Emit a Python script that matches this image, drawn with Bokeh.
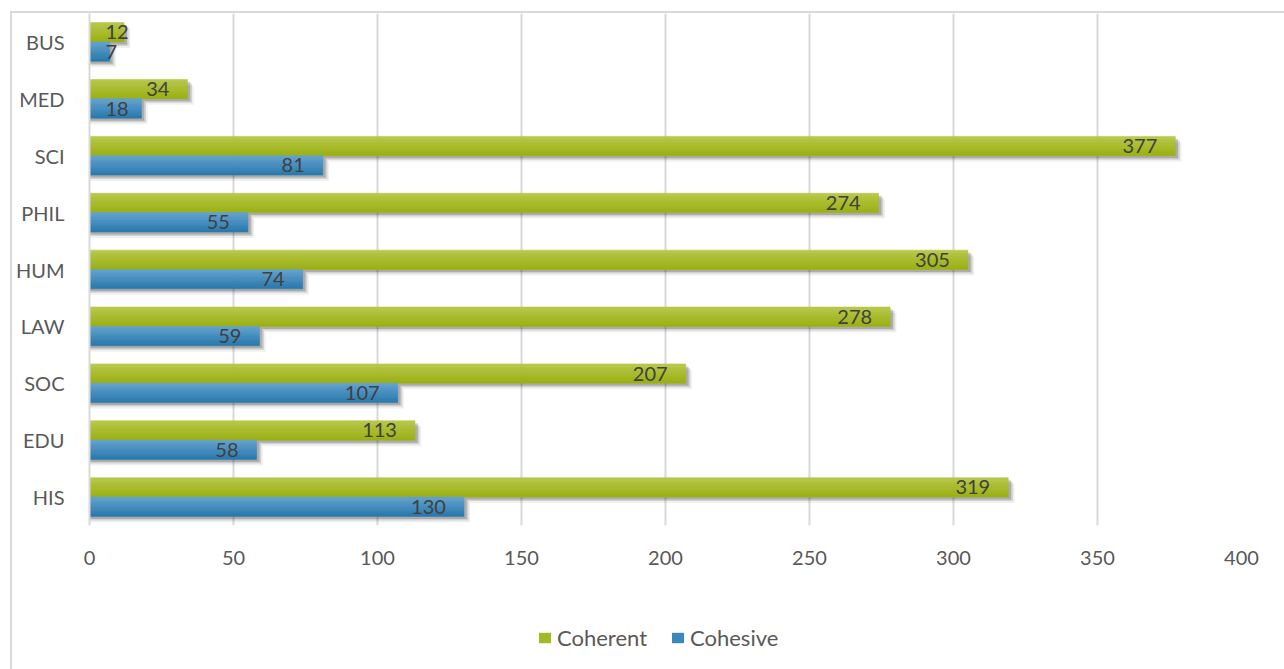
from bokeh.plotting import figure
from bokeh.layouts import column
from bokeh.models import ColumnDataSource, FactorRange, Legend, LegendItem, Range1d
from bokeh.transform import dodge
from bokeh.embed import file_html
from bokeh.resources import INLINE
from bokeh.core.properties import value

# Categories listed bottom to top
categories = ["HIS", "EDU", "SOC", "LAW", "HUM", "PHIL", "SCI", "MED", "BUS"]
coherent = [319, 113, 207, 278, 305, 274, 377, 34, 12]
cohesive = [130, 58, 107, 59, 74, 55, 81, 18, 7]
x_ticks = [0, 50, 100, 150, 200, 250, 300, 350, 400]
series_names = ["Coherent", "Cohesive"]

FONT = "Lato"
TICK_COLOR = "#595959"
LABEL_COLOR = "#404040"
GRID_COLOR = "#d9d9d9"
GREEN_TOP, GREEN_BOTTOM = (183, 199, 72), (156, 178, 20)
BLUE_TOP, BLUE_BOTTOM = (98, 161, 206), (43, 123, 175)
GREEN_KEY, BLUE_KEY = "#a2b825", "#3a87bd"

W = 1272
LEFT, RIGHT, TOP, BOTTOM = 76, 43, 0, 60
FRAME_H = 512
H = FRAME_H + TOP + BOTTOM
LEGEND_H = 84
X_MAX = 400
BAR_H = 0.34
N_STRIPS = 8

p = figure(
    width=W, height=H,
    y_range=FactorRange(*categories),
    x_range=Range1d(0, X_MAX),
    output_backend="svg", toolbar_location=None,
    min_border_left=LEFT, min_border_right=RIGHT,
    min_border_top=TOP, min_border_bottom=BOTTOM,
    outline_line_color=None,
)

src = ColumnDataSource(dict(cat=categories, coherent=coherent, cohesive=cohesive))

frame_w = W - LEFT - RIGHT
px_per_unit = frame_w / X_MAX
row_px = FRAME_H / len(categories)


def mix(a, b, t):
    return "#%02x%02x%02x" % tuple(round(a[k] + (b[k] - a[k]) * t) for k in range(3))


def draw_series(field, center, top_rgb, bottom_rgb):
    vals = src.data[field]
    # soft drop shadow below and to the right of each bar
    for dy, dx, alpha in [(6, 2.2, 0.06), (4, 1.6, 0.12), (2.5, 1.0, 0.18)]:
        sh = ColumnDataSource(dict(cat=categories, right=[v + dx for v in vals]))
        p.hbar(y=dodge("cat", center - dy / row_px, range=p.y_range), left=0, right="right",
               height=BAR_H, source=sh, fill_color="black", fill_alpha=alpha, line_color=None)
    # vertical shading built from horizontal strips
    strip_h = BAR_H / N_STRIPS
    for i in range(N_STRIPS):
        off = center + BAR_H / 2 - (i + 0.5) * strip_h
        col = mix(top_rgb, bottom_rgb, i / (N_STRIPS - 1))
        p.hbar(y=dodge("cat", off, range=p.y_range), left=0, right=field, height=strip_h,
               source=src, fill_color=col, line_color=col, line_width=0.6)
    # value labels at the inside end; short bars get them near the axis
    xs, aligns, offs = [], [], []
    for v in vals:
        w = len(str(v)) * 11.6
        if v * px_per_unit - 18 - w < 16:
            xs.append(0); aligns.append("left"); offs.append(16)
        else:
            xs.append(v); aligns.append("right"); offs.append(-18)
    ls = ColumnDataSource(dict(cat=categories, x=xs, align=aligns, off=offs, txt=[str(v) for v in vals]))
    p.text(x="x", y=dodge("cat", center, range=p.y_range), text="txt", source=ls,
           text_align="align", x_offset="off", text_baseline="middle",
           text_font=value(FONT), text_font_size=value("20px"), text_color=LABEL_COLOR)


draw_series("coherent", 0.17, GREEN_TOP, GREEN_BOTTOM)
draw_series("cohesive", -0.17, BLUE_TOP, BLUE_BOTTOM)

# axes and grid
p.xaxis.ticker = x_ticks
p.xaxis.axis_line_color = None
p.xaxis.major_tick_line_color = None
p.xaxis.minor_tick_line_color = None
p.xaxis.major_tick_in = 0
p.xaxis.major_tick_out = 0
p.xaxis.major_label_standoff = 25
p.xaxis.major_label_text_font = FONT
p.xaxis.major_label_text_font_size = "20px"
p.xaxis.major_label_text_color = TICK_COLOR

p.yaxis.axis_line_color = GRID_COLOR
p.yaxis.axis_line_width = 2
p.yaxis.major_tick_line_color = None
p.yaxis.minor_tick_line_color = None
p.yaxis.major_tick_in = 0
p.yaxis.major_tick_out = 0
p.yaxis.major_label_standoff = 25
p.yaxis.major_label_text_font = FONT
p.yaxis.major_label_text_font_size = "20px"
p.yaxis.major_label_text_color = TICK_COLOR

p.xgrid.grid_line_color = GRID_COLOR
p.xgrid.grid_line_width = 2
p.ygrid.grid_line_color = None

# legend strip underneath the chart
lg = figure(
    width=W, height=LEGEND_H, x_range=Range1d(0, 1), y_range=Range1d(0, 1),
    x_axis_location=None, y_axis_location=None,
    output_backend="svg", toolbar_location=None,
    min_border_left=0, min_border_right=0, min_border_top=0, min_border_bottom=0,
    outline_line_color=None,
)
lg.grid.visible = False
# key swatches sit outside the visible range; only their legend entries show
key_g = lg.rect(x=[-5], y=[-5], width=1, height=1, fill_color=GREEN_KEY, line_color=None)
key_b = lg.rect(x=[-5], y=[-5], width=1, height=1, fill_color=BLUE_KEY, line_color=None)
legend = Legend(
    items=[LegendItem(label=series_names[0], renderers=[key_g]),
           LegendItem(label=series_names[1], renderers=[key_b])],
    orientation="horizontal", location=(448, 18),
    glyph_width=15, glyph_height=13, label_standoff=5, spacing=23,
    padding=0, margin=0, border_line_color=None, background_fill_alpha=0,
    label_text_font=FONT, label_text_font_size="22px", label_text_color=TICK_COLOR,
)
lg.add_layout(legend)

page = column(p, lg, spacing=0)
page.margin = (11, 0, 0, 10)
page.styles = {"border-left": f"2px solid {GRID_COLOR}", "border-top": f"2px solid {GRID_COLOR}"}

open("out.html", "w").write(file_html(page, INLINE))
